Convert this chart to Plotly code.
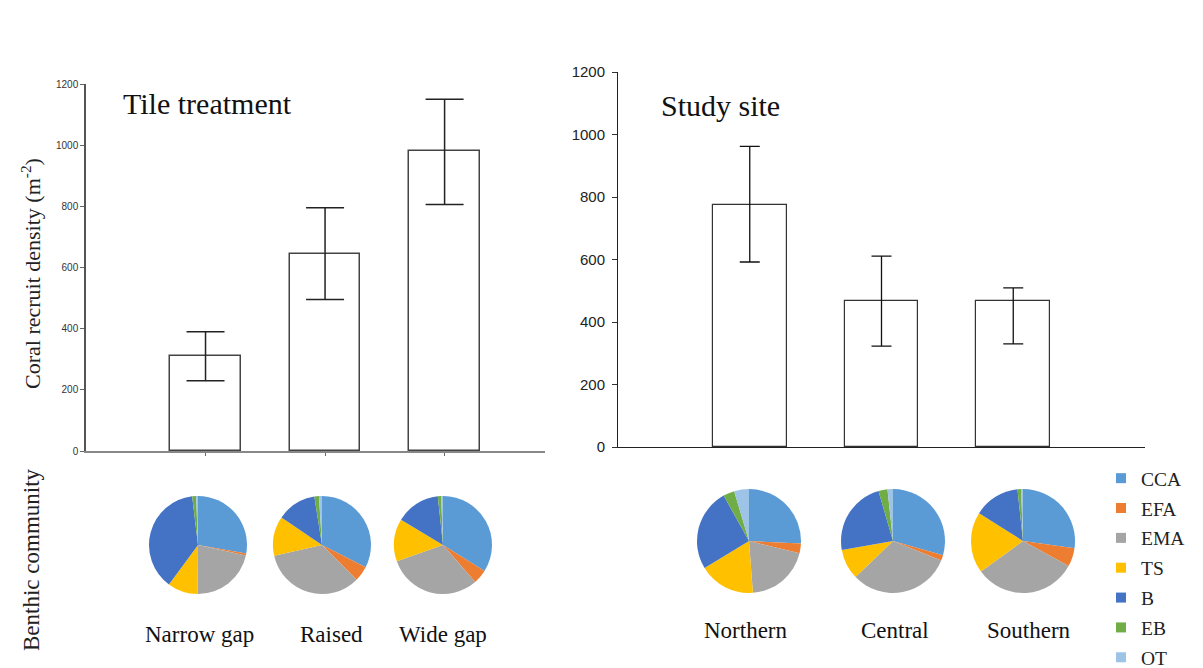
import plotly.graph_objects as go

# ---- data ----
treatments = ["Narrow gap", "Raised", "Wide gap"]
treat_density = [310, 645, 980]
treat_err_plus = [80, 150, 170]
treat_err_minus = [80, 150, 174]

sites = ["Northern", "Central", "Southern"]
site_density = [775, 467, 467]
site_err_plus = [187, 144, 42]
site_err_minus = [183, 144, 137]

groups = ["CCA", "EFA", "EMA", "TS", "B", "EB", "OT"]
group_colors = ["#5B9BD5", "#ED7D31", "#A5A5A5", "#FFC000", "#4472C4", "#70AD47", "#9DC3E6"]

# benthic cover (%) per tile treatment and per site
cover_treat = {
    "Narrow gap": [27.8, 0.6, 21.7, 10.0, 38.0, 1.3, 0.6],
    "Raised":     [32.5, 5.0, 34.0, 13.0, 13.0, 1.5, 1.0],
    "Wide gap":   [33.9, 4.7, 31.0, 14.0, 14.7, 1.1, 0.6],
}
cover_site = {
    "Northern": [25.8, 3.0, 20.0, 17.5, 25.6, 3.5, 4.6],
    "Central":  [29.4, 1.7, 31.7, 9.4, 23.3, 2.8, 1.7],
    "Southern": [27.2, 5.8, 32.0, 19.0, 14.3, 1.1, 0.6],
}

W, H = 1203, 668
SERIF = "Liberation Serif, Times New Roman, serif"
SANS = "Liberation Sans, Arial, sans-serif"


def px_x(v):
    return v / W


def px_y(v):
    return 1 - v / H


fig = go.Figure()

# ---- bar panels ----
fig.add_trace(go.Bar(
    x=treatments, y=treat_density, width=0.59,
    marker=dict(color="white", line=dict(color="#444444", width=1.5)),
    error_y=dict(type="data", symmetric=False, array=treat_err_plus,
                 arrayminus=treat_err_minus, color="#222222", thickness=1.5, width=19),
    xaxis="x", yaxis="y", showlegend=False, hoverinfo="x+y",
))
fig.add_trace(go.Bar(
    x=sites, y=site_density, width=0.56,
    marker=dict(color="white", line=dict(color="#333333", width=1.2)),
    error_y=dict(type="data", symmetric=False, array=site_err_plus,
                 arrayminus=site_err_minus, color="#111111", thickness=1.3, width=10),
    xaxis="x2", yaxis="y2", showlegend=False, hoverinfo="x+y",
))

# ---- pies ----
def add_pie(values, cx, cy, r):
    fig.add_trace(go.Pie(
        labels=groups, values=values, sort=False, direction="clockwise",
        marker=dict(colors=group_colors, line=dict(width=0)),
        textinfo="none", showlegend=False,
        domain=dict(x=[px_x(cx - r), px_x(cx + r)], y=[px_y(cy + r), px_y(cy - r)]),
    ))


for name, cx in zip(treatments, [198, 322, 443]):
    add_pie(cover_treat[name], cx, 545, 49)
for name, cx in zip(sites, [749, 893, 1023]):
    add_pie(cover_site[name], cx, 541, 52)

# legend entries as square markers
for g, c in zip(groups, group_colors):
    fig.add_trace(go.Scatter(
        x=[None], y=[None], mode="markers", name=g, legendgroup=g,
        marker=dict(symbol="square", size=10, color=c),
        xaxis="x2", yaxis="y2",
    ))

annotations = [
    dict(text="Tile treatment", x=px_x(121), y=px_y(103), xanchor="left", yanchor="middle",
         font=dict(family=SERIF, size=30, color="#111111")),
    dict(text="Study site", x=px_x(659), y=px_y(105), xanchor="left", yanchor="middle",
         font=dict(family=SERIF, size=30, color="#111111")),
    dict(text="Coral recruit density (m<sup>-2</sup>)", x=px_x(31), y=px_y(274), textangle=-90,
         xanchor="center", yanchor="middle", font=dict(family=SERIF, size=22, color="#222222")),
    dict(text="Benthic community", x=px_x(31), y=px_y(560), textangle=-90,
         xanchor="center", yanchor="middle", font=dict(family=SERIF, size=23, color="#222222")),
]
for name, cx in zip(treatments, [199, 331, 443]):
    annotations.append(dict(text=name, x=px_x(cx), y=px_y(634), xanchor="center", yanchor="middle",
                            font=dict(family=SERIF, size=23, color="#111111")))
for name, cx in zip(sites, [746, 895, 1029]):
    annotations.append(dict(text=name, x=px_x(cx), y=px_y(630), xanchor="center", yanchor="middle",
                            font=dict(family=SERIF, size=23, color="#111111")))
for a in annotations:
    a.update(xref="paper", yref="paper", showarrow=False)

fig.update_layout(
    width=W, height=H,
    margin=dict(l=0, r=0, t=0, b=0, autoexpand=False),
    paper_bgcolor="white", plot_bgcolor="white",
    annotations=annotations,
    legend=dict(x=px_x(1101), y=px_y(459), xanchor="left", yanchor="top",
                font=dict(family=SERIF, size=19.5, color="#222222"),
                tracegroupgap=1.5, itemwidth=30, bgcolor="rgba(0,0,0,0)"),
    xaxis=dict(domain=[px_x(86), px_x(545)], range=[-1, 2.84], showticklabels=False,
               showline=True, linecolor="#888888", linewidth=2, ticks="outside",
               ticklen=3, tickcolor="#666666", showgrid=False, zeroline=False, anchor="y",
               fixedrange=True),
    yaxis=dict(domain=[px_y(451), px_y(84)], range=[0, 1200], dtick=200, showline=True,
               linecolor="#555555", linewidth=1.5, ticks="outside", ticklen=4,
               tickcolor="#666666", showgrid=False, zeroline=False, anchor="x",
               tickfont=dict(family=SANS, size=10, color="#333333"), fixedrange=True),
    xaxis2=dict(domain=[px_x(618), px_x(1145)], range=[-1, 3], showticklabels=False,
                showline=True, linecolor="#222222", linewidth=1, ticks="", showgrid=False,
                zeroline=False, anchor="y2", fixedrange=True),
    yaxis2=dict(domain=[px_y(447), px_y(72)], range=[0, 1200], dtick=200, showline=True,
                linecolor="#222222", linewidth=1, ticks="outside", ticklen=5,
                tickcolor="#333333", showgrid=False, zeroline=False, anchor="x2",
                ticklabelstandoff=4,
                tickfont=dict(family=SANS, size=15, color="#222222"), fixedrange=True),
    bargap=0,
)

fig.write_html("out.html")
